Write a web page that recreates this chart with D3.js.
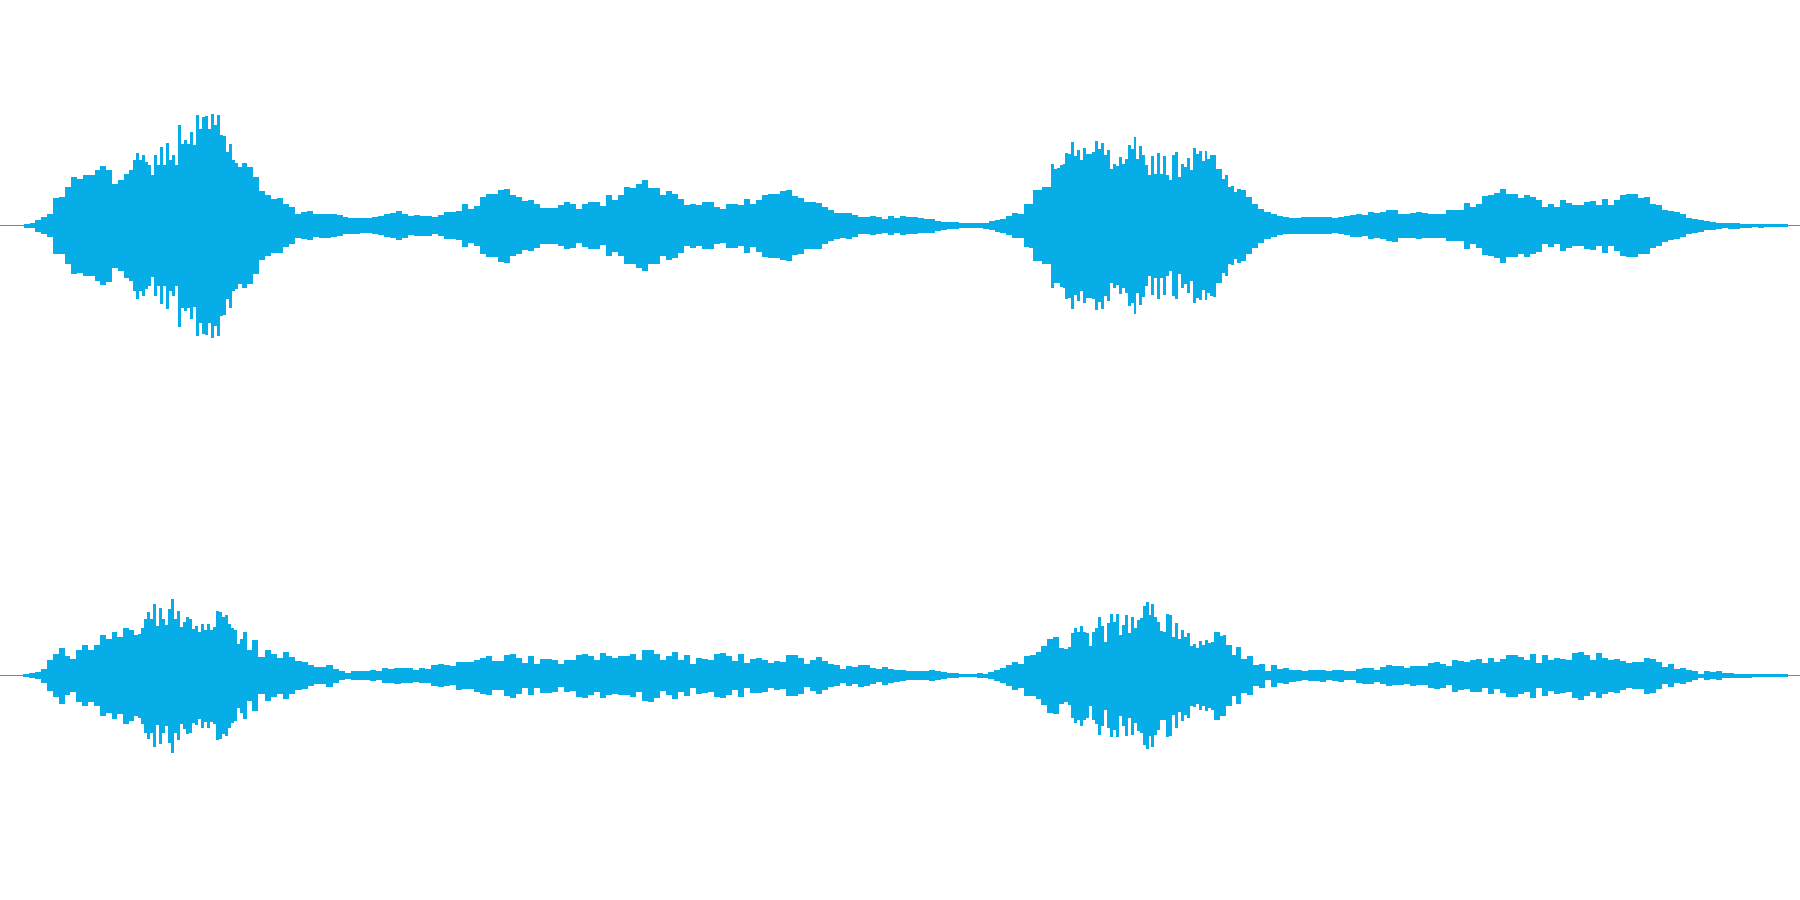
<!DOCTYPE html>
<html><head><meta charset="utf-8">
<script src="https://cdn.jsdelivr.net/npm/d3@7"></script>
<style>html,body{margin:0;padding:0;background:#fff;overflow:hidden}svg{display:block}</style>
</head><body><svg id="c" width="1800" height="900"></svg>
<script>
const colour = "#07ADE6";
const fullScale = 675;      // amplitude units at full scale
const totalFrames = 1800;   // length of the clip, in frames
// Upper channel: peak amplitude per block, each run with the frame where it starts
const topA1 = [1.5,1.5,1.5,1.5,6,8,18,26,34,84,86,116,146,141,151,151,166,178,168,126,136,156];
const topA2 = [166,196,219,196,211,191,181,153,211,181,236,181,249,196,211,181,303,246,256,246,281,243,331,291,326,329,291,336,301,331,271,269,221,246,196,189,176];
const topA3 = [188,176,146,104,91,81,83,64,56,36,41,43,34,36,36,34,31,26,24,24,23,23,26,28,34,38,44,36,29,31,30,30,26,31,41];
const topB = [41,44,64,51,60,86,94,94,108,111,91,86,74,76,66,54,54,54,61,71,66,51,64,71,71,58,91,78,91,116,114,126,136,114,114,91,104,96,81,61,66,61,70,71,56,51,66,66,61,81,64,78,93,96,96,104,106,88,84,71,71,69,56,46,39,38,39,33,26,26,29,26,21,29,23];
const topC1 = [28,26,26,22,21,21,15,12,10,10,7,7,7,7,9,14,18,21,29,38,36,64];
const topC2 = [66,106,106,106,116,116,116,186,171,173,183,186,219,216,251,209,226,196,233,216,216,221,254,229,249,211,226,171,186,179,206,186,201,241,231,266,201,238,213,181,151,209,156,219,156,209,151,136,211,221,146,186,176,203,166,233,216,223,193,223,201,211,213,171,171,141,151,116,118,101,111];
const topC3 = [106,86,66,51,41,34,28,26,24,24,26,26,26,25,26,22,26,28];
const topD = [33,34,31,41,38,41,46,48,36,36,38,41,38,36,36,36,46,46,46,69,56,66,88,91,98,111,94,94,84,93,86,78,56,64,56,76,68,61,61,71,74,61,81,61,76,91,94,94,84,86,66,61,48,44,41,34,24,21,18,14,12,9,8,9,9,6,6,4,6,4,4,4,4,1.5,1.5];
// Lower channel
const botA1 = [1.5,1.5,1.5,1.5,5,8,11,21,46,64,84,58,50,78,92,78,91,121,111,131,116,144,136];
const botA2 = [121,126,144,171,191,171,214,148,204,171,151,201,231,171,194,146,161,176,171,141,148,131,156,138,156,138,146,194,191,176,181,156,143,136,96,111,131];
const botA3 = [76,106,56,76,64,54,71,56,44,41,31,26,26,33,21,13,9,14,13,14,16,14,22,21,24,22,23,18,23,21,31,34,31];
const botB = [28,42,41,40,48,54,58,44,44,61,66,54,38,58,36,51,51,48,34,48,46,63,66,58,48,68,58,54,59,58,64,48,76,78,66,46,58,71,48,61,36,54,51,48,64,68,58,44,64,38,51,52,48,38,44,41,62,62,54,34,46,56,44,34,32,21,30,26,33,31,24,20,27,21,18];
const botC1 = [16,13,14,13,13,16,13,11,7,7,4,4,4,7,6,11,16,22,31,42,36,60,62,71,88,111,116,84];
const botC2 = [80,87,127,142,132,150,132,127,90,132,144,177,150,102,157,184,162,184,122,152,182,127,177,142,167,172,209,220,182,214,177,162,134,132,184,182,117,157,110,137,117,127,90,94,84,104,92,107,97,102,132,132,120,122,92,92,62];
const botC3 = [86,51,58,31,36,14,33,21,24,18,16,14,16,16,18,14,16,18,14];
const botD = [14,21,24,24,18,26,31,28,29,24,30,28,28,38,41,36,28,48,44,41,48,50,38,54,41,51,63,63,56,48,66,38,61,46,54,51,48,68,72,61,48,68,54,48,51,44,38,41,41,54,51,41,26,34,21,24,18,14,6,13,11,13,8,8,6,6,6,4,4,4,4,4,4,1.5,1.5];

const topRuns = [[0,130,topA1],[130,241,topA2],[241,450,topA3],[450,900,topB],[900,1030,topC1],[1030,1240,topC2],[1240,1350,topC3],[1350,1800,topD]];
const botRuns = [[0,135,botA1],[135,246,botA2],[246,450,botA3],[450,900,botB],[900,1065,botC1],[1065,1235,botC2],[1235,1350,botC3],[1350,1800,botD]];

const x = d3.scaleLinear().domain([0, totalFrames]).range([0, 1800]);
const yTop = d3.scaleLinear().domain([fullScale, -fullScale]).range([0.5, 450.5]);
const yBot = d3.scaleLinear().domain([fullScale, -fullScale]).range([450.67, 900.67]);

function points(runs) {
  const pts = [];
  runs.forEach(([a, b, s]) => s.forEach((v, i) => pts.push({t: a + (i + 0.5) * (b - a) / s.length, v})));
  pts.unshift({t: 0, v: pts[0].v});
  pts.push({t: totalFrames, v: pts[pts.length - 1].v});
  return pts;
}
const svg = d3.select("#c");
[[topRuns, yTop], [botRuns, yBot]].forEach(([runs, y]) => {
  const area = d3.area().x(d => x(d.t)).y0(d => y(d.v)).y1(d => y(-d.v)).curve(d3.curveStep);
  svg.append("path").attr("d", area(points(runs))).attr("fill", colour).attr("shape-rendering", "crispEdges");
});
</script></body></html>
